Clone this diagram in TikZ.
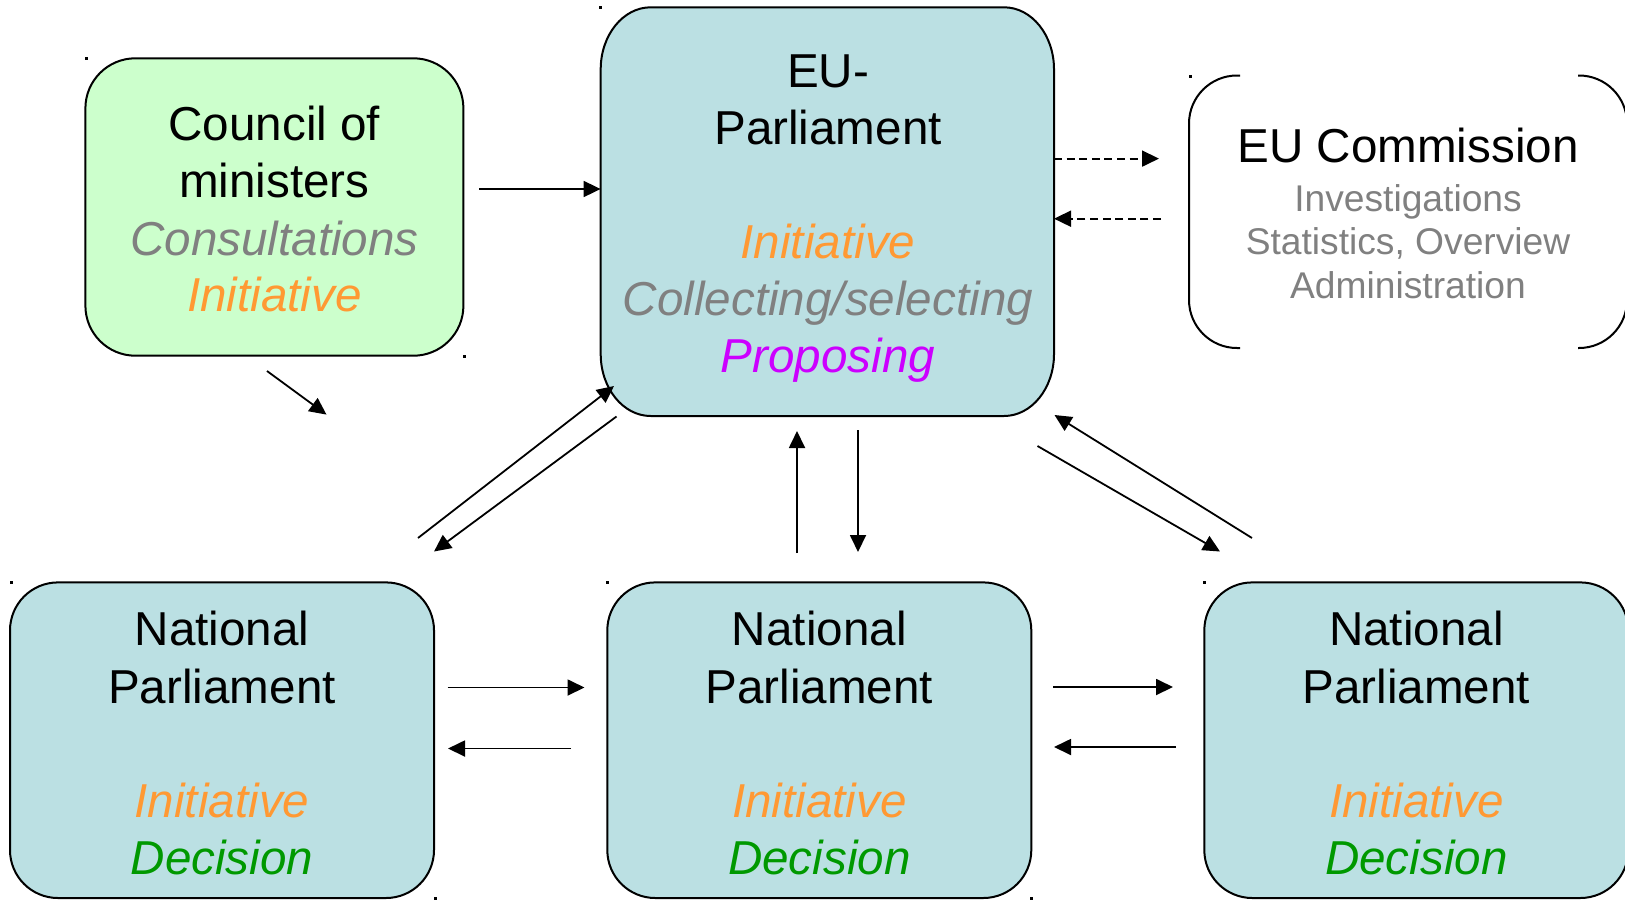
\documentclass[tikz,border=0pt]{standalone}
\usepackage{fontspec}
\setmainfont{Liberation Sans}
\usetikzlibrary{arrows.meta}
\definecolor{eufill}{RGB}{187,224,227}
\definecolor{cofill}{RGB}{204,255,204}
\definecolor{orng}{RGB}{255,153,51}
\definecolor{mgnt}{RGB}{204,0,255}
\definecolor{gry}{RGB}{128,128,128}
\definecolor{grn}{RGB}{0,153,0}
\begin{document}
\begin{tikzpicture}[x=0.5pt,y=-0.5pt,
  box/.style={draw=black,line width=1pt,inner sep=0pt,outer sep=0pt},
  tx/.style={anchor=base,inner sep=0pt,font=\fontsize{23.8pt}{28.5pt}\selectfont},
  itx/.style={anchor=base,inner sep=0pt,font=\fontsize{23.8pt}{28.5pt}\selectfont\itshape},
  sm/.style={anchor=base,inner sep=0pt,text=gry,font=\fontsize{18.6pt}{21.75pt}\selectfont},
  arr/.style={-{Triangle[length=8.5pt,width=8pt]},line width=0.9pt},
  dasharrow/.style={arr,dash pattern=on 4pt off 2.3pt},
  bracket/.style={line width=1pt,rounded corners=24pt}
]
\useasboundingbox (0,0) rectangle (1625,900);

% boxes
\node[box,fill=cofill,rounded corners=25pt,minimum width=189pt,minimum height=148.7pt] (council) at (274.4,207) {};
\draw[line width=1pt,fill=eufill] (650.7,7.3) -- (1004,7.3)
  arc[start angle=90,end angle=0,x radius=25pt,y radius=31pt] -- (1054,354)
  arc[start angle=0,end angle=-90,x radius=25pt,y radius=31pt] -- (650.7,416)
  arc[start angle=270,end angle=180,x radius=25pt,y radius=31pt] -- (600.7,69.3)
  arc[start angle=180,end angle=90,x radius=25pt,y radius=31pt] -- cycle;
\node[inner sep=0pt,outer sep=0pt,minimum width=226.7pt,minimum height=204.3pt] (eup) at (827.3,211.7) {};
\node[box,fill=eufill,rounded corners=24pt,minimum width=212pt,minimum height=157.8pt] (np1) at (222,740.2) {};
\node[box,fill=eufill,rounded corners=24pt,minimum width=212pt,minimum height=157.8pt] (np2) at (819.3,740.2) {};
\node[box,fill=eufill,rounded corners=24pt,minimum width=212pt,minimum height=157.8pt] (np3) at (1416.3,740.2) {};
\node[inner sep=0pt,outer sep=0pt,minimum width=219pt,minimum height=136pt] (com) at (1408,211.7) {};
\draw[bracket] (1240,75.5) -- (1189,75.5) -- (1189,348) -- (1240,348);
\draw[bracket] (1578,75.5) -- (1627,75.5) -- (1627,348) -- (1578,348);

% tiny marks
\foreach \p in {(85,57),(463,355),(599,6),(1189,75),(10,581),(606,581),(1203,581),(434,897),(1030,897)}
  \fill \p rectangle ++(2.5,2.5);

% council text
\node[tx] (c1) at (274.4,140) {Council of};
\node[tx] (c2) at (274.4,197) {ministers};
\node[itx,text=gry] (c3) at (274.4,255) {Consultations};
\node[itx,text=orng] (c4) at (274.4,311.5) {Initiative};

% EU parliament text
\node[tx] (e1) at (828,87.5) {EU-};
\node[tx] (e2) at (828,144.5) {Parliament};
\node[itx,text=orng] (e3) at (828,258) {Initiative};
\node[itx,text=gry] (e4) at (828,315) {Collecting/selecting};
\node[itx,text=mgnt] (e5) at (828,372.5) {Proposing};

% commission text
\node[tx] (k1) at (1408,162) {EU Commission};
\node[sm] (k2) at (1408,211) {Investigations};
\node[sm] (k3) at (1408,254.5) {Statistics, Overview};
\node[sm] (k4) at (1408,298) {Administration};

% national parliaments text
\foreach \n/\x in {a/222,b/819.3,c/1416.3}{
  \node[tx] (n\n1) at (\x,645) {National};
  \node[tx] (n\n2) at (\x,703) {Parliament};
  \node[itx,text=orng] (n\n3) at (\x,817.5) {Initiative};
  \node[itx,text=grn] (n\n4) at (\x,874.5) {Decision};
}

% connector end points
\coordinate (a1s) at (479,189);
\coordinate (a2s) at (267,371);
\coordinate (a2e) at (326.5,414.6);
\coordinate (a3s) at (1054,158.6);
\coordinate (a3e) at (1159,158.6);
\coordinate (a4s) at (1161,218.7);
\coordinate (a5s) at (418,538);
\coordinate (a5e) at (614,386);
\coordinate (a6s) at (616.5,416.5);
\coordinate (a6e) at (434,551.5);
\coordinate (a7s) at (797,553);
\coordinate (a7e) at (797,431);
\coordinate (a8s) at (858,430);
\coordinate (a8e) at (858,552);
\coordinate (a9s) at (1252,538);
\coordinate (a9e) at (1054.5,415);
\coordinate (a10s) at (1037.5,446);
\coordinate (a10e) at (1220,551.5);
\coordinate (a11s) at (447.5,687.5);
\coordinate (a11e) at (584.5,687.5);
\coordinate (a12s) at (571,748.5);
\coordinate (a12e) at (448,748.5);
\coordinate (a13s) at (1053,687);
\coordinate (a13e) at (1173,687);
\coordinate (a14s) at (1176,747);
\coordinate (a14e) at (1054,747);

% connectors
\draw[arr] (a1s) -- (a1s -| eup.west);
\draw[arr] (a2s) -- (a2e);
\draw[dasharrow] (a3s) -- (a3e);
\draw[dasharrow] (a4s) -- (a4s -| eup.east);
\draw[arr] (a5s) -- (a5e);
\draw[arr] (a6s) -- (a6e);
\draw[arr] (a7s) -- (a7e);
\draw[arr] (a8s) -- (a8e);
\draw[arr] (a9s) -- (a9e);
\draw[arr] (a10s) -- (a10e);
\draw[arr] (a11s) -- (a11e);
\draw[arr] (a12s) -- (a12e);
\draw[arr] (a13s) -- (a13e);
\draw[arr] (a14s) -- (a14e);
\end{tikzpicture}
\end{document}
